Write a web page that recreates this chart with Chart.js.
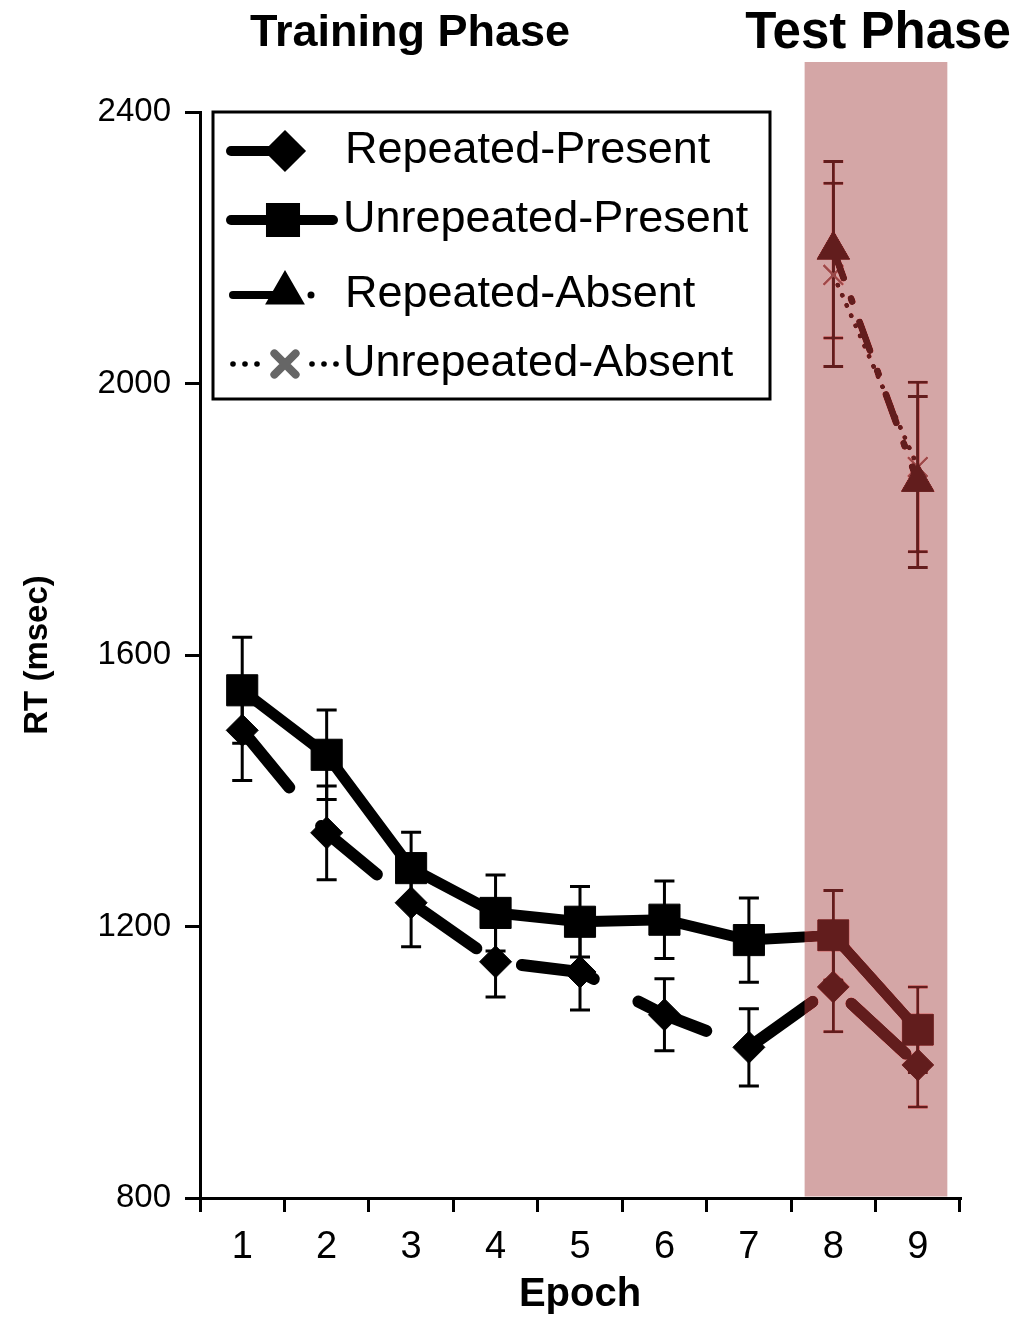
<!DOCTYPE html>
<html>
<head>
<meta charset="utf-8">
<script src="https://cdn.jsdelivr.net/npm/chart.js@4.4.0/dist/chart.umd.min.js"></script>
<style>
  html, body { margin: 0; padding: 0; background: #fff; }
  #wrap { width: 1018px; height: 1317px; }
</style>
</head>
<body>
<div id="wrap"><canvas id="rtChart" width="1018" height="1317"></canvas></div>
<script>
const FONT = "'Liberation Sans', Arial, Helvetica, sans-serif";

// data
const epochs = ['1', '2', '3', '4', '5', '6', '7', '8', '9'];
const yTicks = [800, 1200, 1600, 2000, 2400];

const repeatedPresent      = [1489, 1338, 1235, 1148, 1133, 1070, 1022, 1111, 996];
const repeatedPresentErr   = [74, 69, 65, 52, 56, 53, 57, 66, 62];
const unrepeatedPresent    = [1548, 1453, 1286, 1220, 1207, 1210, 1180, 1187, 1048];
const unrepeatedPresentErr = [78, 66, 53, 56, 52, 57, 62, 66, 63];
const repeatedAbsent       = [null, null, null, null, null, null, null, 2197, 1855];
const repeatedAbsentErr    = [null, null, null, null, null, null, null, 130, 126];
const unrepeatedAbsent     = [null, null, null, null, null, null, null, 2160, 1877];
const unrepeatedAbsentErr  = [null, null, null, null, null, null, null, 135, 125];

const testStart = 7; // index of epoch 8, first test epoch

function bandBounds(chart) {
    const x = chart.scales.x;
    const step = x.getPixelForValue(1) - x.getPixelForValue(0);
    return {
        left: x.getPixelForValue(testStart) - step * 0.34,
        right: x.getPixelForValue(8) + step * 0.35,
        top: chart.chartArea.top - 50,
        bottom: chart.chartArea.bottom - 1.5
    };
}

// white backing so the composite overlay works
const whiteBg = {
    id: 'whiteBg',
    beforeDraw(chart) {
        const c = chart.ctx;
        c.save();
        c.fillStyle = '#fff';
        c.fillRect(0, 0, chart.width, chart.height);
        c.restore();
    }
};

const errorBars = {
    id: 'errorBars',
    beforeDatasetsDraw(chart) {
        const c = chart.ctx;
        const y = chart.scales.y;
        c.save();
        c.strokeStyle = '#000';
        c.lineWidth = 3;
        chart.data.datasets.forEach((ds, di) => {
            const meta = chart.getDatasetMeta(di);
            ds.data.forEach((v, i) => {
                if (v == null) return;
                const e = ds.errors[i];
                const px = meta.data[i].x;
                const top = y.getPixelForValue(v + e);
                const bot = y.getPixelForValue(v - e);
                c.beginPath();
                c.moveTo(px, top); c.lineTo(px, bot);
                c.moveTo(px - 10, top); c.lineTo(px + 10, top);
                c.moveTo(px - 10, bot); c.lineTo(px + 10, bot);
                c.stroke();
            });
        });
        c.restore();
    }
};

// tint for the test phase: dark marks go maroon, white goes pink
const testBand = {
    id: 'testBand',
    afterDatasetsDraw(chart) {
        const c = chart.ctx;
        const b = bandBounds(chart);
        c.save();
        c.globalCompositeOperation = 'lighter';
        c.fillStyle = 'rgb(118,44,44)';
        c.fillRect(b.left, b.top, b.right - b.left, b.bottom - b.top);
        c.globalCompositeOperation = 'multiply';
        c.fillStyle = 'rgb(212,166,166)';
        c.fillRect(b.left, b.top, b.right - b.left, b.bottom - b.top);
        c.restore();
    }
};

const extras = {
    id: 'extras',
    afterDraw(chart) {
        const c = chart.ctx;
        const area = chart.chartArea;
        const drawPoint = Chart.helpers.drawPoint;
        c.save();
        c.fillStyle = '#000';
        c.textBaseline = 'middle';
        c.textAlign = 'center';
        c.font = 'bold 45px ' + FONT;
        c.fillText('Training Phase', 410, 34);
        c.font = 'bold 51px ' + FONT;
        c.fillText('Test Phase', 878, 34);

        // legend box
        const lx = area.left + 13, ly = area.top;
        c.strokeStyle = '#000';
        c.lineWidth = 3;
        c.strokeRect(lx, ly, 557, 287);

        const rows = [ly + 39, ly + 108, ly + 183, ly + 252];
        c.lineCap = 'round';
        // Repeated-Present
        c.lineWidth = 10;
        c.beginPath(); c.moveTo(lx + 18, rows[0]); c.lineTo(lx + 80, rows[0]); c.stroke();
        drawPoint(c, { pointStyle: 'rectRot', radius: 14, borderWidth: 1, rotation: 0 }, lx + 72, rows[0]);
        // Unrepeated-Present
        c.beginPath(); c.moveTo(lx + 18, rows[1]); c.lineTo(lx + 120, rows[1]); c.stroke();
        drawPoint(c, { pointStyle: 'rect', radius: 17, borderWidth: 1, rotation: 0 }, lx + 70, rows[1]);
        // Repeated-Absent
        c.lineWidth = 8;
        c.beginPath(); c.moveTo(lx + 20, rows[2]); c.lineTo(lx + 62, rows[2]); c.stroke();
        drawPoint(c, { pointStyle: 'triangle', radius: 15, borderWidth: 1, rotation: 0 }, lx + 72, rows[2] - 2);
        c.beginPath(); c.arc(lx + 98, rows[2], 3.5, 0, Math.PI * 2); c.fill();
        // Unrepeated-Absent
        [20, 32, 44, 99, 111, 123].forEach(dx => {
            c.beginPath(); c.arc(lx + dx, rows[3], 2.8, 0, Math.PI * 2); c.fill();
        });
        c.strokeStyle = '#666';
        drawPoint(c, { pointStyle: 'crossRot', radius: 15, borderWidth: 2.5, rotation: 0 }, lx + 72, rows[3]);

        c.fillStyle = '#000';
        c.textAlign = 'left';
        c.font = '45px ' + FONT;
        c.fillText('Repeated-Present', lx + 132, rows[0]);
        c.fillText('Unrepeated-Present', lx + 130, rows[1]);
        c.fillText('Repeated-Absent', lx + 132, rows[2]);
        c.fillText('Unrepeated-Absent', lx + 130, rows[3]);
        c.restore();
    }
};

const ctx = document.getElementById('rtChart').getContext('2d');
const chart = new Chart(ctx, {
    type: 'line',
    data: {
        labels: epochs,
        datasets: [{
            label: 'Repeated-Present',
            data: repeatedPresent,
            errors: repeatedPresentErr,
            borderColor: '#000',
            backgroundColor: '#000',
            borderWidth: 12,
            borderDash: [74, 50],
            borderCapStyle: 'round',
            pointStyle: 'rectRot',
            pointRadius: 16,
            pointBorderWidth: 1,
            tension: 0
        }, {
            label: 'Unrepeated-Present',
            data: unrepeatedPresent,
            errors: unrepeatedPresentErr,
            borderColor: '#000',
            backgroundColor: '#000',
            borderWidth: 11,
            pointStyle: 'rect',
            pointRadius: 22,
            pointBorderWidth: 1,
            tension: 0
        }, {
            label: 'Repeated-Absent',
            data: repeatedAbsent,
            errors: repeatedAbsentErr,
            borderColor: '#000',
            backgroundColor: '#000',
            borderWidth: 7,
            borderDash: [30, 22, 3, 22],
            borderCapStyle: 'round',
            pointStyle: 'triangle',
            pointRadius: 19,
            pointBorderWidth: 1,
            tension: 0
        }, {
            label: 'Unrepeated-Absent',
            data: unrepeatedAbsent,
            errors: unrepeatedAbsentErr,
            borderColor: '#000',
            backgroundColor: '#000',
            borderWidth: 5,
            borderDash: [0.1, 11],
            borderCapStyle: 'round',
            pointStyle: 'crossRot',
            pointRadius: 14,
            pointBorderColor: '#444',
            pointBorderWidth: 2.5,
            tension: 0
        }]
    },
    options: {
        responsive: false,
        animation: false,
        events: [],
        layout: { padding: { top: 112, right: 58, left: 0, bottom: 0 } },
        plugins: {
            legend: { display: false },
            tooltip: { enabled: false }
        },
        scales: {
            x: {
                offset: true,
                grid: { offset: true, drawOnChartArea: false, color: '#000', lineWidth: 3, tickLength: 14 },
                border: { color: '#000', width: 3 },
                ticks: { color: '#000', font: { family: FONT, size: 38 }, padding: 13 },
                title: { display: true, text: 'Epoch', color: '#000', font: { family: FONT, size: 40, weight: 'bold', lineHeight: 1.1 }, padding: { top: 0, bottom: 0 } },
                afterFit: s => { s.height = 119; }
            },
            y: {
                min: 800,
                max: 2400,
                afterBuildTicks: s => { s.ticks = yTicks.map(v => ({ value: v })); },
                grid: { drawOnChartArea: false, color: '#000', lineWidth: 3, tickLength: 15 },
                border: { color: '#000', width: 3 },
                ticks: { color: '#000', font: { family: FONT, size: 33 }, padding: 14, callback: v => String(v) },
                title: { display: true, text: 'RT (msec)', color: '#000', font: { family: FONT, size: 33, weight: 'bold' }, padding: { top: 18, bottom: 0 } },
                afterFit: s => { s.width = 200; }
            }
        }
    },
    plugins: [whiteBg, errorBars, testBand, extras]
});
</script>
</body>
</html>
